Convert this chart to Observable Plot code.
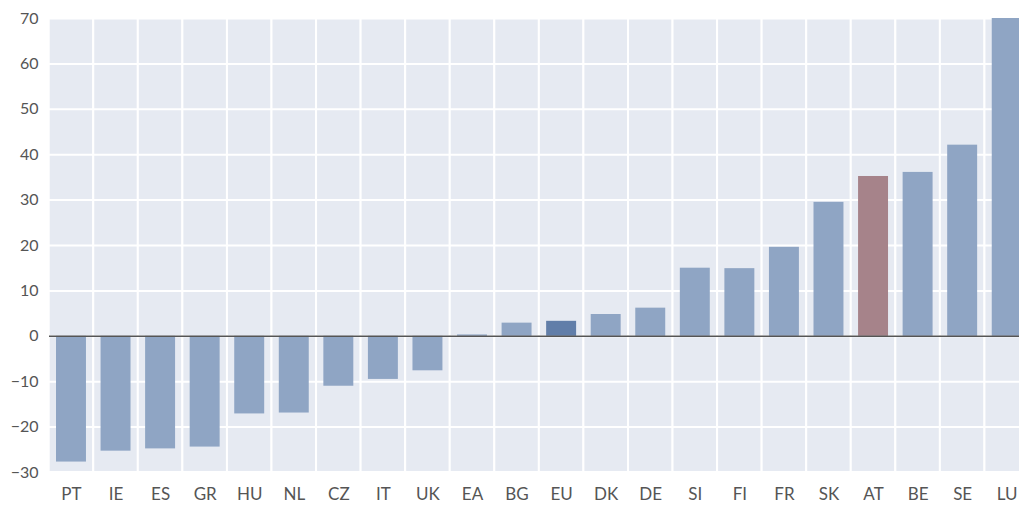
<!DOCTYPE html>
<html>
<head>
<meta charset="utf-8">
<script src="https://cdn.jsdelivr.net/npm/d3@7"></script>
<script src="https://cdn.jsdelivr.net/npm/@observablehq/plot@0.6"></script>
<style>
  html, body { margin: 0; padding: 0; background: #fff; }
  #chart svg { display: block; }
</style>
</head>
<body>
<div id="chart"></div>
<script>
const categories = ["PT","IE","ES","GR","HU","NL","CZ","IT","UK","EA","BG","EU","DK","DE","SI","FI","FR","SK","AT","BE","SE","LU"];
const values = [-27.7,-25.3,-24.8,-24.4,-17.1,-16.9,-11.0,-9.5,-7.6,0.3,2.9,3.3,4.8,6.2,15.0,14.9,19.6,29.5,35.2,36.1,42.1,78];
const yTicks = [-30,-20,-10,0,10,20,30,40,50,60,70];
const highlightCats = ["EU","AT"];
const highlightColors = ["#617ea9","#a6838a"];
const baseColor = "#8fa5c4";

const data = categories.map((c, i) => ({cat: c, value: values[i]}));
const colorOf = c => {
  const k = highlightCats.indexOf(c);
  return k >= 0 ? highlightColors[k] : baseColor;
};
const fmt = d => d < 0 ? "\u2212" + Math.abs(d) : String(d);

const chart = Plot.plot({
  width: 1019,
  height: 505,
  marginLeft: 49,
  marginRight: 0,
  marginTop: 18,
  marginBottom: 33,
  style: {fontFamily: "Lato, 'Open Sans', sans-serif", fontSize: "16px", color: "#555", background: "#fff"},
  x: {domain: categories, range: [48.7, 1029], padding: 0, round: false, label: null},
  y: {domain: [-30, 70], label: null},
  marks: [
    Plot.barY(categories, {x: d => d, y1: -30, y2: 70, fill: "#e6eaf2", stroke: "#fff", strokeWidth: 2}),
    Plot.ruleY(yTicks, {stroke: "#fff", strokeWidth: 2}),
    Plot.barY(data, {x: "cat", y: "value", fill: d => colorOf(d.cat), insetLeft: 7.3, insetRight: 7.3, clip: true}),
    Plot.ruleY([0], {stroke: "#555", strokeWidth: 1.5}),
    Plot.axisY({ticks: yTicks, tickSize: 0, tickPadding: 11, tickFormat: fmt, fontSize: 16, fill: "#555"}),
    Plot.axisX({tickSize: 0, tickPadding: 15, fontSize: 17, fill: "#555"})
  ]
});
document.getElementById("chart").appendChild(chart);
</script>
</body>
</html>
